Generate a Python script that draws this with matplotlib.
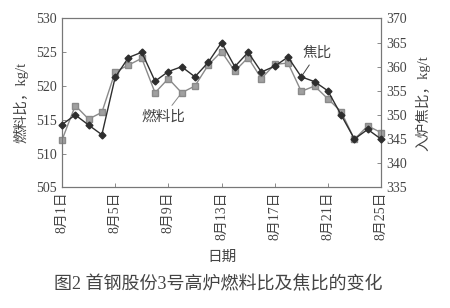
import matplotlib.pyplot as plt
import numpy as np

plt.rcParams['font.family'] = ['Liberation Serif', 'Noto Sans CJK SC']

# data
days = list(range(1, 26))
fuel_ratio = [512.0, 517.1, 515.1, 516.1, 522.1, 523.1, 524.1, 519.0, 521.1, 519.0,
              520.0, 523.1, 525.1, 522.2, 524.2, 521.1, 523.2, 523.4, 519.2, 520.0,
              518.1, 516.2, 512.1, 514.1, 513.1]
coke_ratio = [348.0, 350.0, 347.9, 345.9, 357.8, 361.9, 363.0, 357.0, 359.0, 360.0,
              357.9, 360.9, 365.0, 360.0, 363.0, 358.9, 360.1, 362.0, 357.9, 356.9,
              355.0, 350.0, 345.0, 347.0, 345.0]
tick_days = [1, 5, 9, 13, 17, 21, 25]
tick_labels = ['8月%d日' % d for d in tick_days]

txt = '#444444'
spine = '#777777'

fig = plt.figure(figsize=(4.5, 3.08), dpi=100)
ax = fig.add_axes([0.1378, 0.392, 0.7089, 0.548])
ax2 = ax.twinx()

ax.plot(days, fuel_ratio, color='#8a8a8a', linewidth=1.0, marker='s', markersize=4,
        markerfacecolor='#a0a0a0', markeredgecolor='#8a8a8a', clip_on=False, zorder=3)
ax2.plot(days, coke_ratio, color='#2e2e2e', linewidth=1.0, marker='D', markersize=3.5,
         markerfacecolor='#2e2e2e', markeredgecolor='#2e2e2e', clip_on=False, zorder=4)

ax.set_xlim(1, 25)
ax.set_ylim(505, 530)
ax2.set_ylim(335, 370)
ax.set_yticks(np.arange(505, 531, 5))
ax2.set_yticks(np.arange(335, 371, 5))
ax.set_xticks(tick_days)
ax.set_xticklabels(tick_labels, rotation=90, fontsize=9, color=txt)

for a in (ax, ax2):
    a.tick_params(direction='in', length=3, width=0.6, color=spine, labelsize=10,
                  labelcolor=txt)
    for s in a.spines.values():
        s.set_color(spine)
        s.set_linewidth(0.8)
ax.tick_params(axis='x', pad=3)

ax.set_ylabel('燃料比，kg/t', fontsize=10.5, color=txt, labelpad=6)
ax2.set_ylabel('入炉焦比，kg/t', fontsize=10.5, color=txt, labelpad=6)
ax.set_xlabel('日期', fontsize=10.5, color=txt, labelpad=8)

ax.annotate('燃料比', xy=(10, 519.0), xytext=(8.6, 515.4), fontsize=10.5, color=txt,
            ha='center', va='center',
            arrowprops=dict(arrowstyle='-', color='#888888', lw=0.7, shrinkA=2, shrinkB=2))
ax2.annotate('焦比', xy=(19, 357.9), xytext=(20.2, 362.8), fontsize=10.5, color=txt,
             ha='center', va='center',
             arrowprops=dict(arrowstyle='-', color='#444444', lw=0.7, shrinkA=2, shrinkB=2))

fig.text(0.485, 0.075, '图2 首钢股份3号高炉燃料比及焦比的变化', fontsize=13, color=txt,
         ha='center', va='center')

plt.savefig('out.png', dpi=100)
